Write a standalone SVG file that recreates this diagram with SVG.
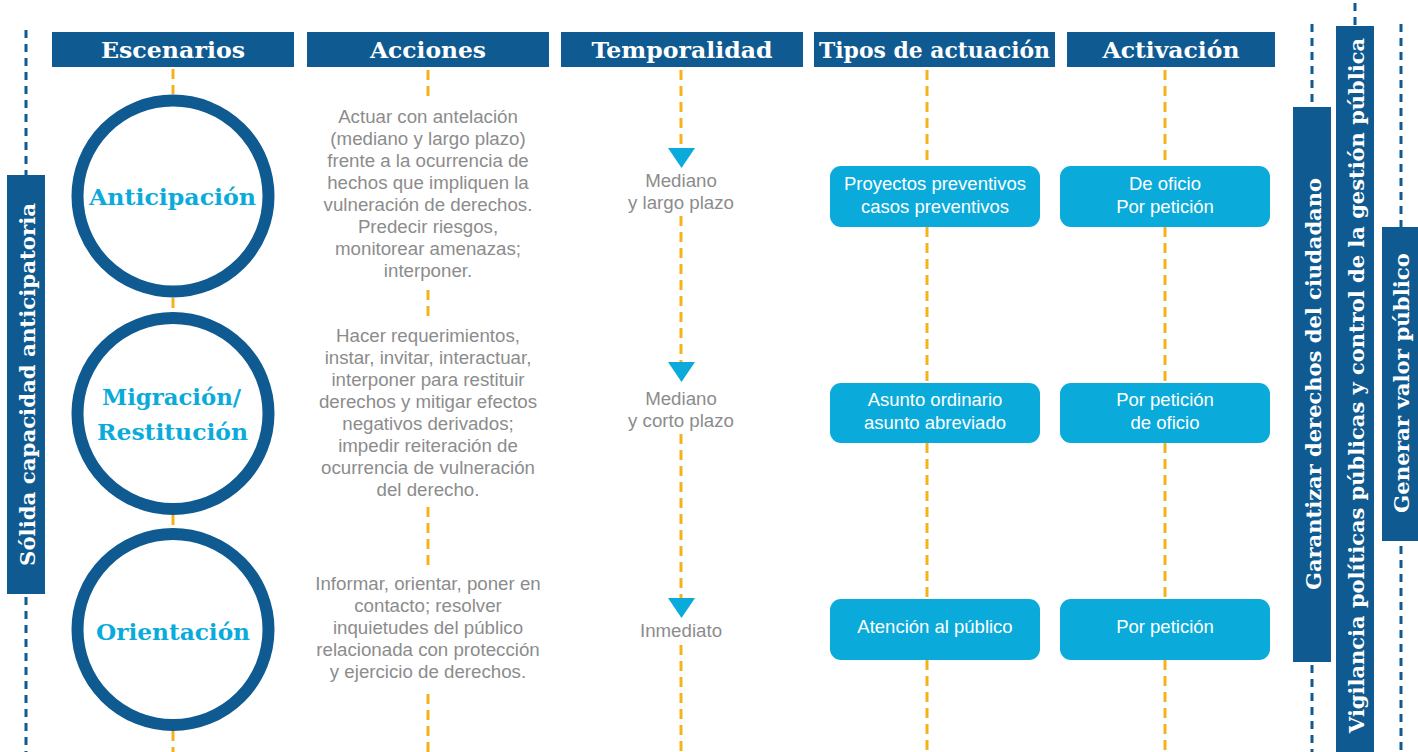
<svg xmlns="http://www.w3.org/2000/svg" width="1418" height="752" viewBox="0 0 1418 752">
<style>
.hdr{fill:#0F5A91}
.ht{font-family:"DejaVu Serif",serif;font-weight:bold;font-size:23px;fill:#fff;text-anchor:middle}
.ring{fill:#fff;stroke:#0F5A91;stroke-width:12}
.ct{font-family:"DejaVu Serif",serif;font-weight:bold;font-size:23px;fill:#0AABDA;text-anchor:middle}
.body{font-family:"Liberation Sans",Arial,sans-serif;font-size:18.7px;fill:#8C8C8C;text-anchor:middle}
.box{fill:#0AABDA}
.bt{font-family:"Liberation Sans",Arial,sans-serif;font-size:18.5px;fill:#fff;text-anchor:middle}
.od{stroke:#F5B21B;stroke-width:3;stroke-dasharray:10 6;fill:none}
.bd{stroke:#0F5A91;stroke-width:3;stroke-dasharray:8 6;fill:none}
.tri{fill:#0AABDA}
.vt{font-family:"DejaVu Serif",serif;font-weight:bold;font-size:20px;fill:#fff;text-anchor:middle}
</style>
<rect width="1418" height="752" fill="#fff"/>
<g id="connectors">
<line class="bd" x1="26" y1="30" x2="26" y2="175"/>
<line class="bd" x1="26" y1="597" x2="26" y2="752"/>
<line class="bd" x1="1312" y1="24" x2="1312" y2="107"/>
<line class="bd" x1="1312" y1="665" x2="1312" y2="752"/>
<line class="bd" x1="1355" y1="3" x2="1355" y2="26"/>
<line class="bd" x1="1401" y1="24" x2="1401" y2="227"/>
<line class="bd" x1="1401" y1="546" x2="1401" y2="752"/>
<line class="od" x1="173" y1="69" x2="173" y2="94"/>
<line class="od" x1="173" y1="298" x2="173" y2="312"/>
<line class="od" x1="173" y1="515" x2="173" y2="528"/>
<line class="od" x1="173" y1="731" x2="173" y2="752"/>
<line class="od" x1="428" y1="70" x2="428" y2="98"/>
<line class="od" x1="428" y1="290" x2="428" y2="320"/>
<line class="od" x1="428" y1="507" x2="428" y2="566"/>
<line class="od" x1="428" y1="694" x2="428" y2="752"/>
<line class="od" x1="681" y1="70" x2="681" y2="150"/>
<line class="od" x1="681" y1="216" x2="681" y2="364"/>
<line class="od" x1="681" y1="434" x2="681" y2="600"/>
<line class="od" x1="681" y1="645" x2="681" y2="752"/>
<line class="od" x1="927" y1="70" x2="927" y2="166"/>
<line class="od" x1="927" y1="227" x2="927" y2="383"/>
<line class="od" x1="927" y1="443" x2="927" y2="599"/>
<line class="od" x1="927" y1="660" x2="927" y2="752"/>
<line class="od" x1="1165" y1="70" x2="1165" y2="166"/>
<line class="od" x1="1165" y1="227" x2="1165" y2="383"/>
<line class="od" x1="1165" y1="443" x2="1165" y2="599"/>
<line class="od" x1="1165" y1="660" x2="1165" y2="752"/>
<polygon class="tri" points="668,148 695,148 681.5,168"/>
<polygon class="tri" points="668,362 695,362 681.5,382"/>
<polygon class="tri" points="668,598 695,598 681.5,618"/>
</g>
<g id="hdr-escenarios"><rect class="hdr" x="52" y="32" width="242" height="35"/><text class="ht" x="173" y="58" textLength="144" lengthAdjust="spacingAndGlyphs">Escenarios</text></g>
<g id="hdr-acciones"><rect class="hdr" x="307" y="32" width="242" height="35"/><text class="ht" x="428" y="58" textLength="116" lengthAdjust="spacingAndGlyphs">Acciones</text></g>
<g id="hdr-temporalidad"><rect class="hdr" x="561" y="32" width="242" height="35"/><text class="ht" x="682" y="58" textLength="181" lengthAdjust="spacingAndGlyphs">Temporalidad</text></g>
<g id="hdr-tipos"><rect class="hdr" x="814" y="32" width="241" height="35"/><text class="ht" x="934.5" y="58" textLength="231" lengthAdjust="spacingAndGlyphs">Tipos de actuación</text></g>
<g id="hdr-activacion"><rect class="hdr" x="1067" y="32" width="208" height="35"/><text class="ht" x="1171" y="58" textLength="137" lengthAdjust="spacingAndGlyphs">Activación</text></g>
<g id="bar-solida"><rect class="hdr" x="7" y="175" width="38" height="419"/><text class="vt" transform="translate(35,384.5) rotate(-90)" textLength="363" lengthAdjust="spacingAndGlyphs">Sólida capacidad anticipatoria</text></g>
<g id="bar-garantizar"><rect class="hdr" x="1293" y="107" width="38" height="555"/><text class="vt" transform="translate(1321,384) rotate(-90)" textLength="412" lengthAdjust="spacingAndGlyphs">Garantizar derechos del ciudadano</text></g>
<g id="bar-vigilancia"><rect class="hdr" x="1336" y="26" width="38" height="726"/><text class="vt" transform="translate(1364,385.5) rotate(-90)" textLength="695" lengthAdjust="spacingAndGlyphs">Vigilancia políticas públicas y control de la gestión pública</text></g>
<g id="bar-valor"><rect class="hdr" x="1382" y="227" width="36" height="314"/><text class="vt" transform="translate(1409,383) rotate(-90)" textLength="260" lengthAdjust="spacingAndGlyphs">Generar valor público</text></g>
<g id="circle-anticipacion"><circle class="ring" cx="173" cy="196" r="95.5"/><text class="ct" x="172.5" y="205" textLength="167" lengthAdjust="spacingAndGlyphs">Anticipación</text></g>
<g id="circle-migracion"><circle class="ring" cx="173" cy="413.5" r="95.5"/><text class="ct" x="171.5" y="405" textLength="139" lengthAdjust="spacingAndGlyphs">Migración/</text><text class="ct" x="172.5" y="440" textLength="151" lengthAdjust="spacingAndGlyphs">Restitución</text></g>
<g id="circle-orientacion"><circle class="ring" cx="173" cy="629.5" r="95.5"/><text class="ct" x="173" y="640" textLength="154" lengthAdjust="spacingAndGlyphs">Orientación</text></g>
<g id="acc-1"><text class="body" x="428"><tspan x="428" y="123">Actuar con antelación</tspan><tspan x="428" y="145">(mediano y largo plazo)</tspan><tspan x="428" y="167">frente a la ocurrencia de</tspan><tspan x="428" y="189">hechos que impliquen la</tspan><tspan x="428" y="211">vulneración de derechos.</tspan><tspan x="428" y="233">Predecir riesgos,</tspan><tspan x="428" y="255">monitorear amenazas;</tspan><tspan x="428" y="277">interponer.</tspan></text></g>
<g id="acc-2"><text class="body" x="428"><tspan x="428" y="342">Hacer requerimientos,</tspan><tspan x="428" y="364">instar, invitar, interactuar,</tspan><tspan x="428" y="386">interponer para restituir</tspan><tspan x="428" y="408">derechos y mitigar efectos</tspan><tspan x="428" y="430">negativos derivados;</tspan><tspan x="428" y="452">impedir reiteración de</tspan><tspan x="428" y="474">ocurrencia de vulneración</tspan><tspan x="428" y="496">del derecho.</tspan></text></g>
<g id="acc-3"><text class="body" x="428"><tspan x="428" y="590">Informar, orientar, poner en</tspan><tspan x="428" y="612">contacto; resolver</tspan><tspan x="428" y="634">inquietudes del público</tspan><tspan x="428" y="656">relacionada con protección</tspan><tspan x="428" y="678">y ejercicio de derechos.</tspan></text></g>
<g id="temp-1"><text class="body"><tspan x="681" y="187">Mediano</tspan><tspan x="681" y="209">y largo plazo</tspan></text></g>
<g id="temp-2"><text class="body"><tspan x="681" y="405">Mediano</tspan><tspan x="681" y="427">y corto plazo</tspan></text></g>
<g id="temp-3"><text class="body"><tspan x="681" y="637">Inmediato</tspan></text></g>
<g id="tipo-1"><rect class="box" x="830" y="166" width="210" height="61" rx="11"/><text class="bt"><tspan x="935" y="190">Proyectos preventivos</tspan><tspan x="935" y="213">casos preventivos</tspan></text></g>
<g id="tipo-2"><rect class="box" x="830" y="383" width="210" height="60" rx="11"/><text class="bt"><tspan x="935" y="406">Asunto ordinario</tspan><tspan x="935" y="429">asunto abreviado</tspan></text></g>
<g id="tipo-3"><rect class="box" x="830" y="599" width="210" height="61" rx="11"/><text class="bt"><tspan x="935" y="633">Atención al público</tspan></text></g>
<g id="act-1"><rect class="box" x="1060" y="166" width="210" height="61" rx="11"/><text class="bt"><tspan x="1165" y="190">De oficio</tspan><tspan x="1165" y="213">Por petición</tspan></text></g>
<g id="act-2"><rect class="box" x="1060" y="383" width="210" height="60" rx="11"/><text class="bt"><tspan x="1165" y="406">Por petición</tspan><tspan x="1165" y="429">de oficio</tspan></text></g>
<g id="act-3"><rect class="box" x="1060" y="599" width="210" height="61" rx="11"/><text class="bt"><tspan x="1165" y="633">Por petición</tspan></text></g>
</svg>
